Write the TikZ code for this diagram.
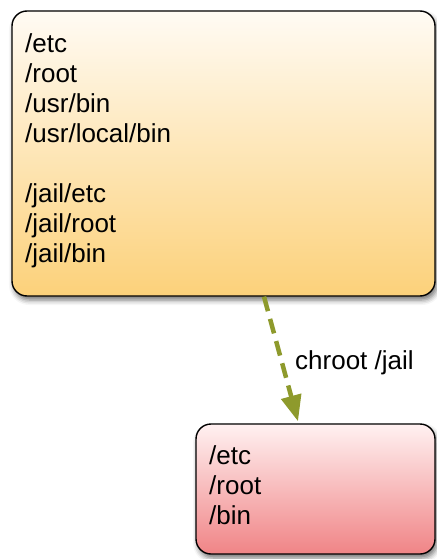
\documentclass[tikz,border=0pt]{standalone}
\usepackage{fontspec}
\setmainfont{Liberation Sans}
\usetikzlibrary{arrows.meta,shadows.blur}

\definecolor{orangetop}{HTML}{FFFBF4}
\definecolor{orangebot}{HTML}{FCD17A}
\definecolor{pinktop}{HTML}{FFF1F1}
\definecolor{pinkbot}{HTML}{F08486}
\definecolor{olive}{HTML}{8E9A2C}

\tikzset{
  dirbox/.style={draw=black, line width=1.4pt, rounded corners=15pt,
    inner sep=0pt,
    blur shadow={shadow xshift=2pt, shadow yshift=-4pt,
                 shadow blur radius=5pt, shadow opacity=55}},
  listing/.style={anchor=north west, inner sep=0pt, align=left,
    font=\fontsize{26}{30}\selectfont},
  flow/.style={olive, line width=4.5pt, dash pattern=on 15pt off 8pt,
    -{Triangle[width=20pt,length=26pt]}}
}

\begin{document}
\begin{tikzpicture}[x=1pt, y=-1pt]
  \useasboundingbox (0,0) rectangle (436,559);

  % host filesystem
  \node[dirbox, top color=orangetop, bottom color=orangebot,
        minimum width=423pt, minimum height=285pt] (host) at (223.5,153.5) {};
  \node[listing] (hostlist) at (25,33)
    {/etc\\/root\\/usr/bin\\/usr/local/bin\\[30pt]/jail/etc\\/jail/root\\/jail/bin};

  % jailed view
  \node[dirbox, top color=pinktop, bottom color=pinkbot,
        minimum width=239pt, minimum height=130pt] (jail) at (315.5,489) {};
  \node[listing] (jaillist) at (209,445) {/etc\\/root\\/bin};

  % chroot transition
  \coordinate (sx) at (264,0);
  \coordinate (ex) at (298,0);
  \draw[flow] (host.south -| sx) -- ([yshift=2pt]jail.north -| ex);
  \node[anchor=base west, inner sep=0pt, font=\fontsize{26}{30}\selectfont]
    (cmd) at (295,369) {chroot /jail};
\end{tikzpicture}
\end{document}
